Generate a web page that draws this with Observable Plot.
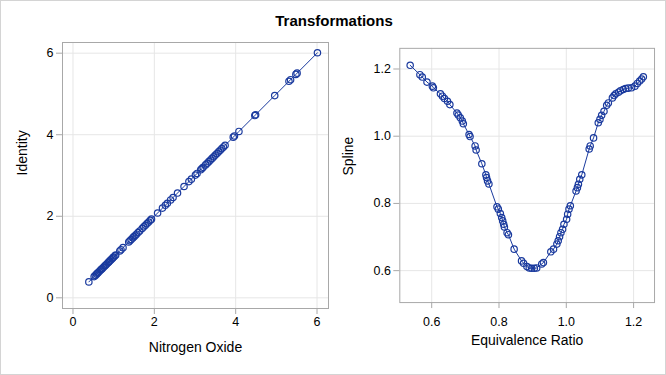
<!DOCTYPE html>
<html>
<head>
<meta charset="utf-8">
<script src="https://cdn.jsdelivr.net/npm/d3@7"></script>
<script src="https://cdn.jsdelivr.net/npm/@observablehq/plot@0.6"></script>
<style>
  html, body { margin: 0; padding: 0; background: #fff; }
  #chart { position: relative; width: 666px; height: 375px; box-sizing: border-box; border: 1px solid #d4d4d4; overflow: hidden; font-family: "Liberation Sans", Arial, sans-serif; }
  #title { position: absolute; left: 0; width: 666px; top: 12px; text-align: center; font: bold 15px/15px "Liberation Sans", Arial, sans-serif; color: #000; }
  .panel { position: absolute; top: -1px; }
</style>
</head>
<body>
<div id="chart">
  <div id="title">Transformations</div>
  <div id="left" class="panel" style="left:-1px"></div>
  <div id="right" class="panel" style="left:332px"></div>
</div>
<script>
// ---- Data ----
const noxValues = [0.39, 0.52, 0.55, 0.58, 0.60, 0.62, 0.65, 0.68, 0.70, 0.72, 0.75, 0.78, 0.80, 0.83, 0.86, 0.88, 0.90, 0.93, 0.96, 0.98, 1.00, 1.03, 1.05,
  1.15, 1.18, 1.23, 1.37, 1.40, 1.43, 1.47, 1.50, 1.53, 1.56, 1.60, 1.64, 1.70, 1.74, 1.78, 1.82, 1.86, 1.90, 1.93,
  2.08, 2.20, 2.27, 2.32, 2.40, 2.46, 2.57, 2.73, 2.85, 2.91, 3.01, 3.05, 3.14, 3.17, 3.20, 3.26, 3.30, 3.34, 3.38, 3.42, 3.46, 3.50, 3.54, 3.58, 3.62, 3.66, 3.70, 3.74,
  3.94, 3.97, 4.08, 4.47, 4.49, 4.96, 5.31, 5.35, 5.48, 5.51, 6.01];
const identityValues = [0.39, 0.52, 0.55, 0.58, 0.60, 0.62, 0.65, 0.68, 0.70, 0.72, 0.75, 0.78, 0.80, 0.83, 0.86, 0.88, 0.90, 0.93, 0.96, 0.98, 1.00, 1.03, 1.05,
  1.15, 1.18, 1.23, 1.37, 1.40, 1.43, 1.47, 1.50, 1.53, 1.56, 1.60, 1.64, 1.70, 1.74, 1.78, 1.82, 1.86, 1.90, 1.93,
  2.08, 2.20, 2.27, 2.32, 2.40, 2.46, 2.57, 2.73, 2.85, 2.91, 3.01, 3.05, 3.14, 3.17, 3.20, 3.26, 3.30, 3.34, 3.38, 3.42, 3.46, 3.50, 3.54, 3.58, 3.62, 3.66, 3.70, 3.74,
  3.94, 3.97, 4.08, 4.47, 4.49, 4.96, 5.31, 5.35, 5.48, 5.51, 6.01];

const eqRatio = [0.536, 0.565, 0.572, 0.586, 0.602, 0.605, 0.626, 0.632, 0.638, 0.647, 0.654, 0.675, 0.679, 0.685, 0.691, 0.694, 0.711, 0.714, 0.729, 0.732,
  0.749, 0.761, 0.763, 0.766, 0.770, 0.794, 0.798, 0.804, 0.808, 0.811, 0.814, 0.816, 0.824, 0.828, 0.845, 0.867, 0.873, 0.883, 0.890, 0.897,
  0.905, 0.912, 0.927, 0.932, 0.954, 0.962, 0.972, 0.976, 0.980, 0.984, 0.989, 0.993, 1.001, 1.004, 1.008, 1.012, 1.029, 1.033, 1.036, 1.040,
  1.046, 1.068, 1.071, 1.081, 1.095, 1.100, 1.105, 1.112, 1.120, 1.125, 1.137, 1.142, 1.147, 1.155, 1.161, 1.169, 1.176, 1.184, 1.194, 1.204,
  1.211, 1.218, 1.224, 1.229];
const splineValues = [1.211, 1.183, 1.176, 1.161, 1.149, 1.144, 1.126, 1.119, 1.112, 1.104, 1.094, 1.069, 1.063, 1.055, 1.045, 1.037, 1.005, 0.999, 0.971, 0.959,
  0.918, 0.885, 0.877, 0.867, 0.858, 0.790, 0.783, 0.770, 0.758, 0.748, 0.738, 0.730, 0.713, 0.707, 0.664, 0.629, 0.622, 0.612, 0.608, 0.607,
  0.607, 0.608, 0.620, 0.624, 0.656, 0.664, 0.679, 0.689, 0.701, 0.713, 0.723, 0.738, 0.753, 0.768, 0.783, 0.793, 0.837, 0.847, 0.857, 0.872,
  0.885, 0.962, 0.971, 0.995, 1.040, 1.050, 1.062, 1.074, 1.092, 1.099, 1.114, 1.121, 1.126, 1.131, 1.135, 1.139, 1.142, 1.143, 1.144, 1.149,
  1.157, 1.164, 1.170, 1.177];

const xTicksLeft = [0, 2, 4, 6];
const yTicksLeft = [0, 2, 4, 6];
const xTicksRight = [0.6, 0.8, 1.0, 1.2];
const yTicksRight = [0.6, 0.8, 1.0, 1.2];

// ---- Styling ----
const BLUE = "#1a3a9e";
const GRID = "#e6e6e6";
const FRAME = "#a8a8a8";
const FONT = "'Liberation Sans', Arial, sans-serif";

function panel({data, xDomain, yDomain, xTicks, yTicks, xFmt, yFmt, xLabel, yLabel, m, xPad, xLabelDy, yLabelDx}) {
  return Plot.plot({
    width: 333,
    height: 375,
    marginLeft: m.left, marginRight: m.right, marginTop: m.top, marginBottom: m.bottom,
    style: {fontFamily: FONT, fontSize: "12.5px", color: "#000", background: "transparent", overflow: "visible"},
    x: {domain: xDomain},
    y: {domain: yDomain},
    marks: [
      Plot.gridX(xTicks, {stroke: GRID, strokeOpacity: 1}),
      Plot.gridY(yTicks, {stroke: GRID, strokeOpacity: 1}),
      Plot.frame({stroke: FRAME}),
      Plot.axisX(xTicks, {tickSize: 6, tickPadding: xPad, stroke: FRAME, fill: "#000", tickFormat: xFmt, label: null, fontSize: 12.5}),
      Plot.axisY(yTicks, {tickSize: 6, tickPadding: 3, stroke: FRAME, fill: "#000", tickFormat: yFmt, label: null, fontSize: 12.5}),
      Plot.line(data, {x: "x", y: "y", stroke: BLUE, strokeWidth: 1}),
      Plot.dot(data, {x: "x", y: "y", r: 3.2, stroke: BLUE, strokeWidth: 1.2, fill: "none"}),
      Plot.text([xLabel], {frameAnchor: "bottom", dy: 43, text: d => d, fontSize: 14, fill: "#000"}),
      Plot.text([yLabel], {frameAnchor: "left", dx: yLabelDx, rotate: -90, text: d => d, fontSize: 14, fill: "#000"})
    ]
  });
}

const leftData = noxValues.map((v, i) => ({x: v, y: identityValues[i]}));
const rightData = eqRatio.map((v, i) => ({x: v, y: splineValues[i]}));

document.getElementById("left").appendChild(panel({
  data: leftData,
  xDomain: [-0.258, 6.282], yDomain: [-0.262, 6.262],
  xTicks: xTicksLeft, yTicks: yTicksLeft,
  xFmt: d3.format("d"), yFmt: d3.format("d"),
  xLabel: "Nitrogen Oxide", yLabel: "Identity",
  m: {left: 62, right: 5, top: 42, bottom: 67},
  xPad: 3, yLabelDx: -40
}));

document.getElementById("right").appendChild(panel({
  data: rightData,
  xDomain: [0.5052, 1.2622], yDomain: [0.505, 1.2614],
  xTicks: xTicksRight, yTicks: yTicksRight,
  xFmt: d3.format(".1f"), yFmt: d3.format(".1f"),
  xLabel: "Equivalence Ratio", yLabel: "Spline",
  m: {left: 66.5, right: 11, top: 48, bottom: 72},
  xPad: 9, yLabelDx: -51
}));
</script>
</body>
</html>
